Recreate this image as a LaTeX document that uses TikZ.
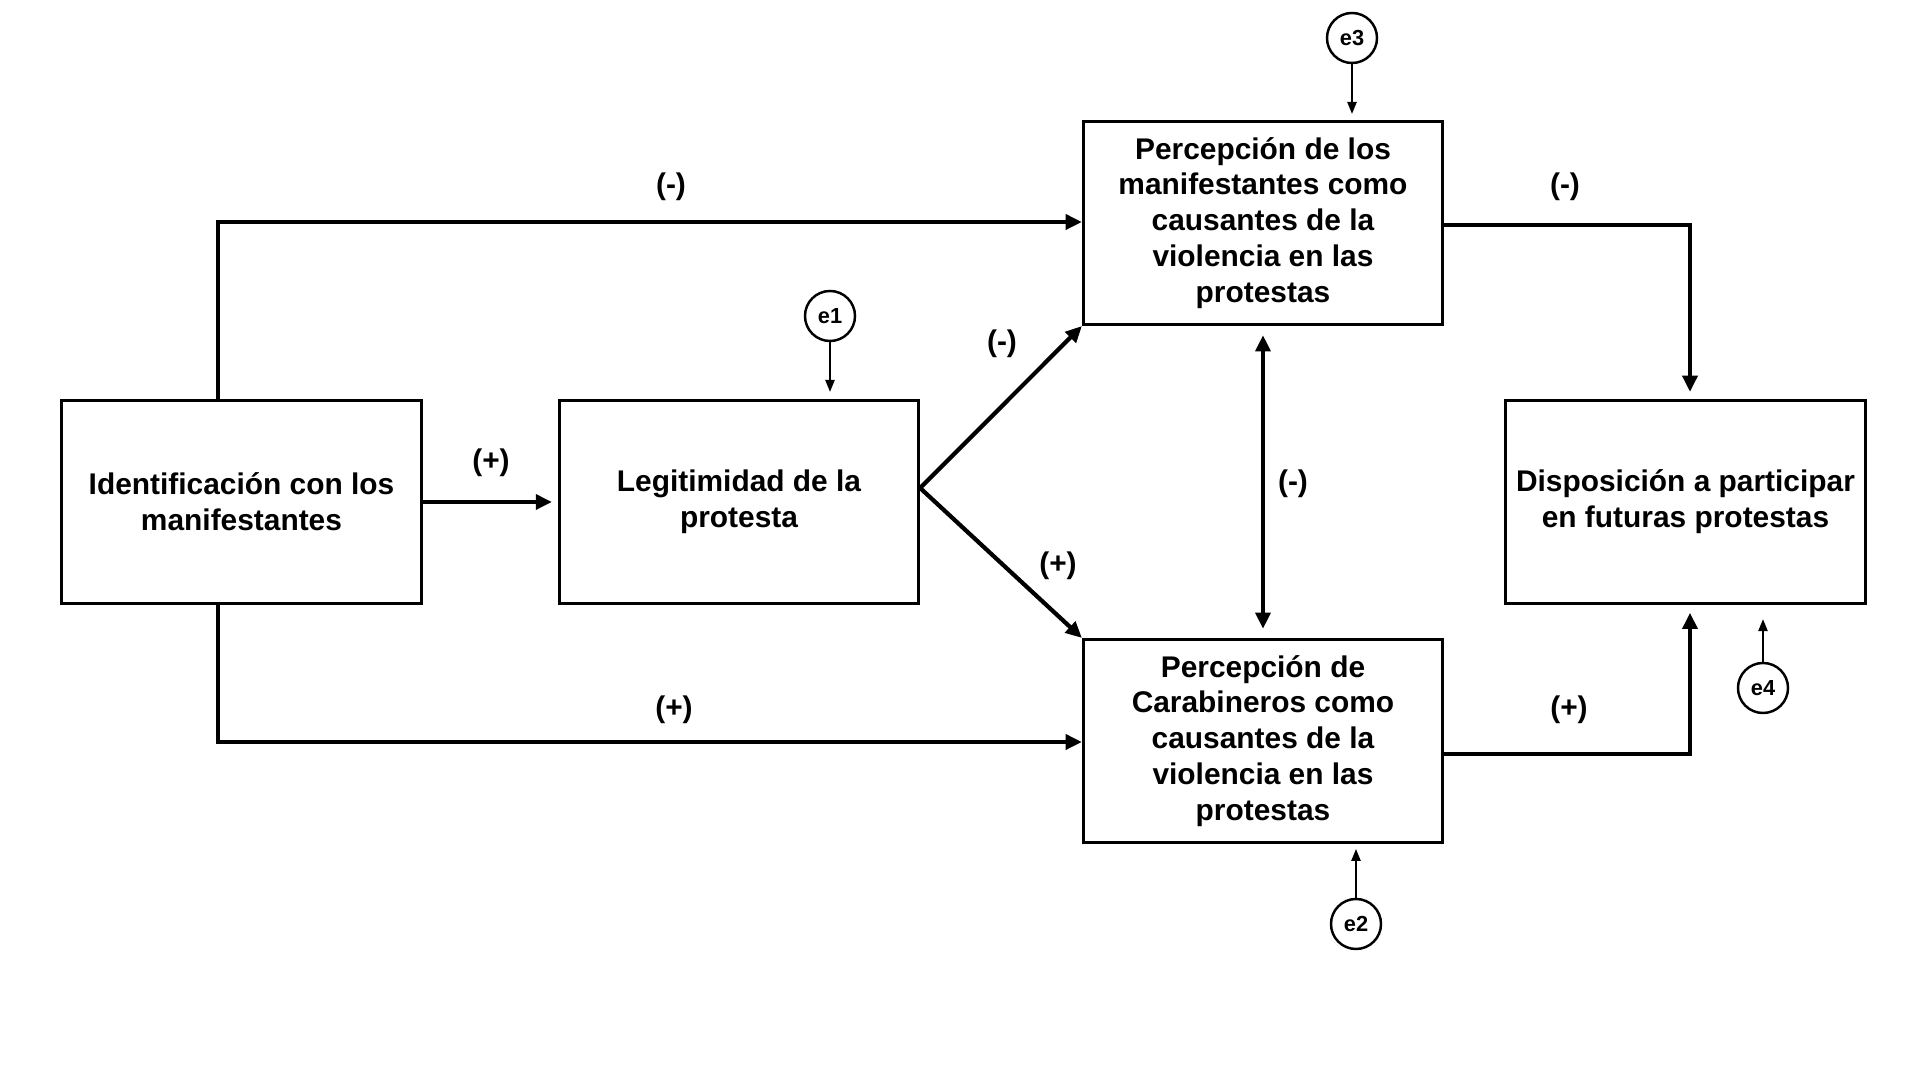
\documentclass[tikz,border=0pt]{standalone}
\usepackage{fontspec}
\setmainfont{Liberation Sans}
\usetikzlibrary{arrows.meta,calc}
\begin{document}
\begin{tikzpicture}[x=0.01cm,y=-0.01cm,
 box/.style={draw,line width=0.85pt,minimum width=3.59cm,minimum height=2.03cm,align=center,font=\bfseries\fontsize{8.5}{10.2}\selectfont,inner sep=0pt},
 conn/.style={line width=1.2pt,-{Triangle[length=4.6pt,width=4.2pt]}},
 dconn/.style={line width=1.2pt,{Triangle[length=4.6pt,width=4.2pt]}-{Triangle[length=4.6pt,width=4.2pt]}},
 err/.style={draw,circle,line width=0.7pt,minimum size=0.5cm,inner sep=0pt,font=\bfseries\fontsize{6.2}{7}\selectfont},
 econn/.style={line width=0.55pt,-{Triangle[length=3.4pt,width=2.6pt]}},
 lab/.style={font=\bfseries\fontsize{8.5}{10}\selectfont}]
\useasboundingbox (0,0) rectangle (1920,1080);
\fill[white] (0,0) rectangle (1920,1080);

% boxes
\node[box] (A) at (241.5,502) {Identificación con los\\manifestantes};
\node[box] (B) at (739,502) {Legitimidad de la\\protesta};
\node[box] (C) at (1263,223) {Percepción de los\\manifestantes como\\causantes de la\\violencia en las\\protestas};
\node[box] (D) at (1263,741) {Percepción de\\Carabineros como\\causantes de la\\violencia en las\\protestas};
\node[box] (E) at (1685.5,502) {Disposición a participar\\en futuras protestas};

% error terms
\node[err] (e3) at (1352,38) {e3};
\node[err] (e1) at (830,316) {e1};
\node[err] (e2) at (1356,924) {e2};
\node[err] (e4) at (1763,688) {e4};

% bend points
\coordinate (a1) at (218,222);
\coordinate (a2) at (218,742);
\coordinate (bo) at ($(B.east)+(0,-14)$);
\coordinate (c1) at (1690,225);
\coordinate (d1) at (1690,754);

% connectors
\draw[conn] (a1 |- A.north) -- (a1) -- (a1 -| C.west);
\draw[conn] (a2 |- A.south) -- (a2) -- (a2 -| D.west);
\draw[conn,shorten >=1.7pt] (A.east) -- (B.west);
\draw[conn] (bo) -- (C.south west);
\draw[conn] (bo) -- (D.north west);
\draw[dconn,shorten <=2.6pt,shorten >=2.6pt] (C.south) -- (D.north);
\draw[conn,shorten >=2pt] (c1 -| C.east) -- (c1) -- (c1 |- E.north);
\draw[conn,shorten >=2.2pt] (d1 -| D.east) -- (d1) -- (d1 |- E.south);

\draw[econn,shorten >=1.7pt] (e3) -- (e3 |- C.north);
\draw[econn,shorten >=2pt] (e1) -- (e1 |- B.north);
\draw[econn,shorten >=1.4pt] (e2) -- (e2 |- D.south);
\draw[econn,shorten >=4pt] (e4) -- (e4 |- E.south);

% labels
\node[lab] (l1) at (671,187) {(-)};
\node[lab] (l2) at (674,710) {(+)};
\node[lab] (l3) at (491,463) {(+)};
\node[lab] (l4) at (1002,344) {(-)};
\node[lab] (l5) at (1058,566) {(+)};
\node[lab] (l6) at (1293,484) {(-)};
\node[lab] (l7) at (1565,187) {(-)};
\node[lab] (l8) at (1569,710) {(+)};
\end{tikzpicture}
\end{document}
